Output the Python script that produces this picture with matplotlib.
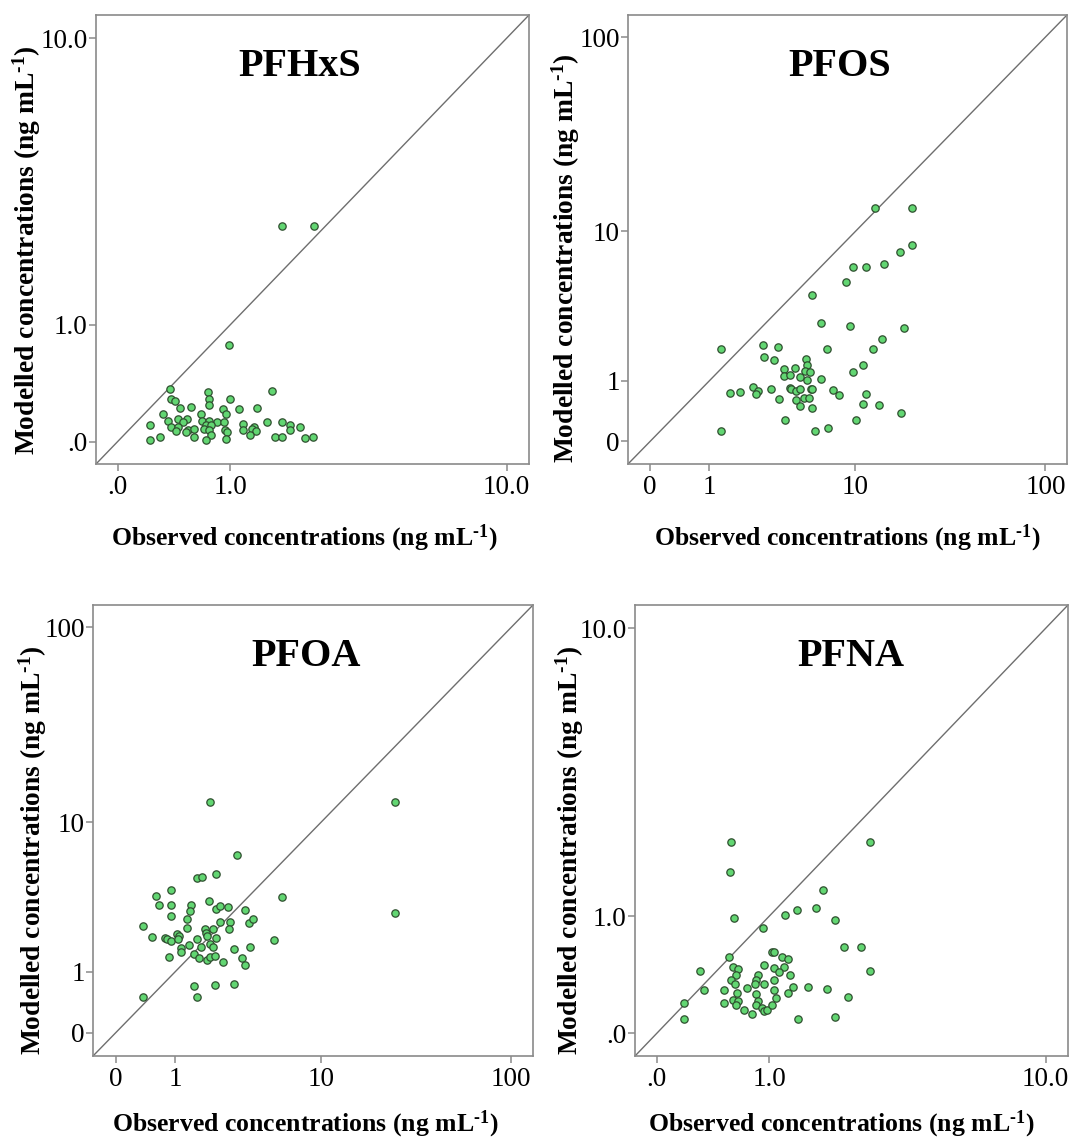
import numpy as np
import matplotlib
matplotlib.use("Agg")
import matplotlib.pyplot as plt
from matplotlib.ticker import FixedLocator, FixedFormatter

plt.rcParams['font.family'] = ['Liberation Serif', 'DejaVu Serif']
plt.rcParams['mathtext.fontset'] = 'custom'
plt.rcParams['mathtext.rm'] = 'Liberation Serif:bold'
plt.rcParams['mathtext.bf'] = 'Liberation Serif:bold'
plt.rcParams['mathtext.default'] = 'regular'

# ---------------- data (ng/mL) ----------------
pfhxs_obs = [0.38, 1.59, 0.75, 0.76, 0.76, 0.39, 0.42, 1.00, 0.47, 0.57, 0.91, 0.95, 1.11, 1.36,
             0.67, 0.32, 0.45, 0.53, 0.36, 0.50, 0.68, 0.76, 0.84, 0.92, 0.22, 0.39, 0.45, 0.72,
             0.78, 1.16, 1.32, 1.51, 1.75, 1.89, 2.07, 0.54, 0.60, 0.52, 0.43, 0.70, 0.76, 0.94,
             0.96, 1.17, 1.29, 1.34, 1.90, 0.78, 1.26, 0.22, 0.30, 0.60, 0.72, 0.95, 1.64, 1.75,
             2.18, 2.34, 1.75, 2.35, 0.98]
pfhxs_mod = [0.37, 0.35, 0.34, 0.29, 0.24, 0.29, 0.27, 0.29, 0.22, 0.23, 0.21, 0.18, 0.21, 0.22,
             0.18, 0.18, 0.14, 0.14, 0.13, 0.12, 0.13, 0.13, 0.12, 0.12, 0.10, 0.09, 0.09, 0.10,
             0.10, 0.11, 0.09, 0.12, 0.12, 0.10, 0.09, 0.07, 0.077, 0.056, 0.066, 0.077, 0.07, 0.07,
             0.056, 0.07, 0.08, 0.066, 0.07, 0.04, 0.04, 0.011, 0.025, 0.025, 0.011, 0.015, 0.029,
             0.029, 0.019, 0.03, 2.59, 2.59, 0.77]

pfos_obs = [1.29, 6.37, 9.33, 18.40, 14.01, 6.93, 12.57, 2.73, 3.44, 2.79, 3.26, 5.18, 5.23, 4.44,
            3.79, 5.11, 5.48, 3.80, 4.13, 4.77, 5.23, 6.37, 9.74, 11.07, 2.32, 2.52, 2.45, 1.86,
            1.53, 3.10, 3.53, 4.13, 4.19, 4.50, 4.77, 5.56, 5.66, 7.44, 8.12, 11.41, 4.50, 5.00,
            5.40, 4.77, 5.63, 11.07, 13.49, 17.66, 3.84, 10.08, 1.29, 5.82, 6.99,
            12.75, 20.3, 20.3, 17.5, 9.74, 11.44, 14.36, 8.87, 5.60]
pfos_mod = [1.87, 2.87, 2.75, 2.65, 2.23, 1.87, 1.87, 2.00, 1.93, 1.61, 1.52, 1.56, 1.40, 1.31,
            1.29, 1.24, 1.22, 1.12, 1.14, 1.08, 1.02, 1.04, 1.20, 1.38, 0.86, 0.77, 0.71, 0.76,
            0.73, 0.81, 0.62, 0.84, 0.81, 0.77, 0.81, 0.82, 0.81, 0.79, 0.69, 0.71, 0.60, 0.64,
            0.64, 0.49, 0.47, 0.54, 0.52, 0.38, 0.27, 0.28, 0.12, 0.12, 0.16,
            13.33, 13.3, 8.38, 7.68, 6.35, 6.33, 6.62, 5.16, 4.34]

pfoa_obs = [3.14, 1.58, 1.75, 2.22, 0.60, 0.90, 6.00, 0.65, 0.90, 1.41, 1.38, 1.97, 2.23, 2.38,
            2.70, 0.91, 3.53, 0.37, 1.31, 1.29, 2.36, 2.80, 2.77, 3.75, 3.99, 1.84, 2.13, 1.87,
            0.52, 0.77, 0.81, 0.90, 1.04, 1.10, 1.06, 1.58, 1.89, 2.23, 2.01, 1.34, 1.15, 1.14,
            1.70, 2.10, 5.38, 0.87, 1.50, 1.63, 1.89, 2.01, 2.17, 2.49, 2.98, 3.80, 3.36, 3.53,
            1.48, 2.17, 3.00, 1.58, 0.37, 2.01, 25.0, 25.0]
pfoa_mod = [6.58, 4.83, 4.86, 5.08, 3.75, 4.07, 3.70, 3.27, 3.30, 3.27, 2.99, 3.49, 3.11, 3.22,
            3.19, 2.78, 3.03, 2.36, 2.64, 2.30, 2.53, 2.53, 2.27, 2.49, 2.67, 2.27, 2.25, 2.12,
            1.98, 1.94, 1.92, 1.83, 2.09, 2.00, 1.92, 1.92, 2.00, 1.94, 1.76, 1.73, 1.63, 1.51,
            1.66, 1.66, 1.87, 1.37, 1.46, 1.35, 1.30, 1.37, 1.39, 1.25, 1.58, 1.66, 1.35, 1.17,
            0.70, 0.72, 0.75, 0.50, 0.50, 12.90, 12.90, 2.92]

pfna_obs = [0.58, 2.72, 0.57, 1.79, 0.61, 0.92, 1.20, 1.38, 1.67, 2.01, 2.17, 2.53, 0.56, 1.04,
            1.06, 1.16, 1.25, 0.31, 2.72, 0.60, 0.65, 0.94, 1.06, 1.19, 1.13, 1.28, 0.63, 0.58,
            0.62, 0.87, 0.84, 1.06, 0.94, 0.34, 0.51, 0.64, 0.74, 0.83, 1.31, 1.25, 1.54, 1.85,
            2.25, 0.51, 0.60, 0.65, 0.85, 0.87, 1.06, 1.09, 0.63, 0.71, 0.80, 0.85, 0.91, 0.94,
            0.97, 1.03, 0.18, 0.18, 1.39, 2.01]
pfna_mod = [2.11, 2.11, 1.60, 1.33, 0.98, 0.87, 1.01, 1.08, 1.10, 0.96, 0.67, 0.67, 0.57, 0.62,
            0.62, 0.57, 0.55, 0.45, 0.45, 0.48, 0.46, 0.50, 0.47, 0.48, 0.44, 0.41, 0.41, 0.37,
            0.34, 0.41, 0.37, 0.37, 0.34, 0.29, 0.29, 0.27, 0.31, 0.34, 0.32, 0.27, 0.32, 0.30,
            0.24, 0.20, 0.22, 0.21, 0.26, 0.21, 0.29, 0.23, 0.18, 0.15, 0.12, 0.18, 0.16, 0.14,
            0.15, 0.18, 0.20, 0.09, 0.09, 0.10]

titles = ["PFHxS", "PFOS", "PFOA", "PFNA"]
ticks_small = [0, 1, 10]
ticklabels_small = [".0", "1.0", "10.0"]
ticks_large = [0, 1, 10, 100]
ticklabels_large = ["0", "1", "10", "100"]

xlabel = r"Observed concentrations (ng mL$^{\text{-1}}$)"
ylabel = r"Modelled concentrations (ng mL$^{\text{-1}}$)"

# ---------------- layout ----------------
W, H = 1072, 1142
fig = plt.figure(figsize=(W / 100, H / 100), dpi=100)


def fwd(x):
    x = np.asarray(x, dtype=float)
    with np.errstate(invalid="ignore", divide="ignore"):
        return np.log10(1.0 + x)


def inv(t):
    return 10.0 ** np.asarray(t, dtype=float) - 1.0


panels = [
    dict(box=(96, 529, 15, 464), obs=pfhxs_obs, mod=pfhxs_mod, tr=(-0.058, 1.101),
         ticks=ticks_small, tl=ticklabels_small, title_xy=(300, 67),
         xl_xy=(304, 538), yl_xy=(27, 250)),
    dict(box=(628, 1067, 15, 464), obs=pfos_obs, mod=pfos_mod, tr=(-0.112, 2.114),
         ticks=ticks_large, tl=ticklabels_large, title_xy=(840, 67),
         xl_xy=(847, 538), yl_xy=(566, 258)),
    dict(box=(93, 533, 605, 1056), obs=pfoa_obs, mod=pfoa_mod, tr=(-0.115, 2.115),
         ticks=ticks_large, tl=ticklabels_large, title_xy=(306, 657),
         xl_xy=(305, 1124), yl_xy=(33, 850)),
    dict(box=(635, 1068, 605, 1056), obs=pfna_obs, mod=pfna_mod, tr=(-0.058, 1.101),
         ticks=ticks_small, tl=ticklabels_small, title_xy=(851, 657),
         xl_xy=(841, 1124), yl_xy=(570, 850)),
]

spine_col = "#8a8a8a"
for p, title in zip(panels, titles):
    L, R, T, B = p["box"]
    ax = fig.add_axes([L / W, 1 - B / H, (R - L) / W, (B - T) / H])
    ax.set_xscale("function", functions=(fwd, inv))
    ax.set_yscale("function", functions=(fwd, inv))
    lo, hi = inv(p["tr"][0]), inv(p["tr"][1])
    ax.set_xlim(lo, hi)
    ax.set_ylim(lo, hi)
    # identity line y = x
    ax.axline((0, 0), (10, 10), color="#6e6e6e", lw=1.0, zorder=1)
    ax.scatter(p["obs"], p["mod"], s=28, facecolor="#62d672", edgecolor="#2f4f2f",
               linewidths=0.9, zorder=3)
    for axis in (ax.xaxis, ax.yaxis):
        axis.set_major_locator(FixedLocator(p["ticks"]))
        axis.set_major_formatter(FixedFormatter(p["tl"]))
        axis.set_minor_locator(FixedLocator([]))
    ax.tick_params(axis="both", direction="out", length=5, width=1.1, color=spine_col,
                   labelsize=19.5, labelcolor="black")
    ax.tick_params(axis="y", pad=1)
    ax.tick_params(axis="x", pad=3)
    for s in ax.spines.values():
        s.set_color(spine_col)
        s.set_linewidth(1.2)
    tx, ty = p["title_xy"]
    fig.text(tx / W, 1 - ty / H, title, fontsize=29, fontweight="bold",
             ha="center", va="center")
    xx, xy = p["xl_xy"]
    fig.text(xx / W, 1 - xy / H, xlabel, fontsize=18.5, fontweight="bold",
             ha="center", va="center")
    yx, yy = p["yl_xy"]
    fig.text(yx / W, 1 - yy / H, ylabel, fontsize=19.8, fontweight="bold",
             ha="center", va="center", rotation=90)

fig.savefig("out.png", dpi=100, facecolor="white")
